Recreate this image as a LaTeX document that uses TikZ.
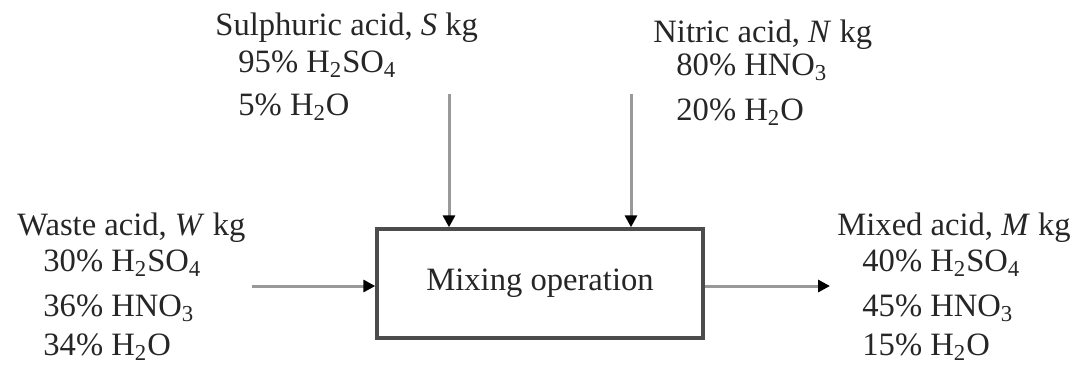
\documentclass[tikz,border=0pt]{standalone}
\usepackage{fontspec}
\setmainfont{Liberation Serif}
\usetikzlibrary{arrows.meta}
\begin{document}
\begin{tikzpicture}[x=0.5pt,y=-0.5pt,
  lbl/.style={anchor=base west,inner sep=0pt,font=\fontsize{16.3}{19}\selectfont,text=black!85},
  flow/.style={draw=black!40,line width=1.5pt,-{Triangle[length=6pt,width=6pt,color=black]}},
  procbox/.style={draw=black!70,line width=1.7pt,minimum width=163pt,minimum height=54.5pt,inner sep=0pt,font=\fontsize{16.3}{19}\selectfont,text=black!85}]
\useasboundingbox (0,0) rectangle (1079,366);
\node[procbox] (box) at (540,283.5) {Mixing operation};
% top-left stream
\node[lbl] (s1) at (215,35) {Sulphuric acid, \textit{S} kg};
\node[lbl] (s2) at (238,72) {95\% H\textsubscript{2}SO\textsubscript{4}};
\node[lbl] (s3) at (238,115) {5\% H\textsubscript{2}O};
% top-right stream
\node[lbl] (n1) at (653,42) {Nitric acid, \textit{N} kg};
\node[lbl] (n2) at (676,75) {80\% HNO\textsubscript{3}};
\node[lbl] (n3) at (676,120) {20\% H\textsubscript{2}O};
% left stream
\node[lbl] (w1) at (17,235) {Waste acid, \textit{W} kg};
\node[lbl] (w2) at (43,271) {30\% H\textsubscript{2}SO\textsubscript{4}};
\node[lbl] (w3) at (43,316) {36\% HNO\textsubscript{3}};
\node[lbl] (w4) at (43,355) {34\% H\textsubscript{2}O};
% right stream
\node[lbl] (m1) at (837,235) {Mixed acid, \textit{M} kg};
\node[lbl] (m2) at (862,271) {40\% H\textsubscript{2}SO\textsubscript{4}};
\node[lbl] (m3) at (862,316) {45\% HNO\textsubscript{3}};
\node[lbl] (m4) at (862,355) {15\% H\textsubscript{2}O};
% connectors
\coordinate (sA) at (449,94);
\coordinate (nA) at (631,94);
\coordinate (wA) at (252,286);
\coordinate (mA) at (830,286);
\draw[flow] (sA) -- (sA |- box.north);
\draw[flow] (nA) -- (nA |- box.north);
\draw[flow] (wA) -- (wA -| box.west);
\draw[flow] (mA -| box.east) -- (mA);
\end{tikzpicture}
\end{document}
